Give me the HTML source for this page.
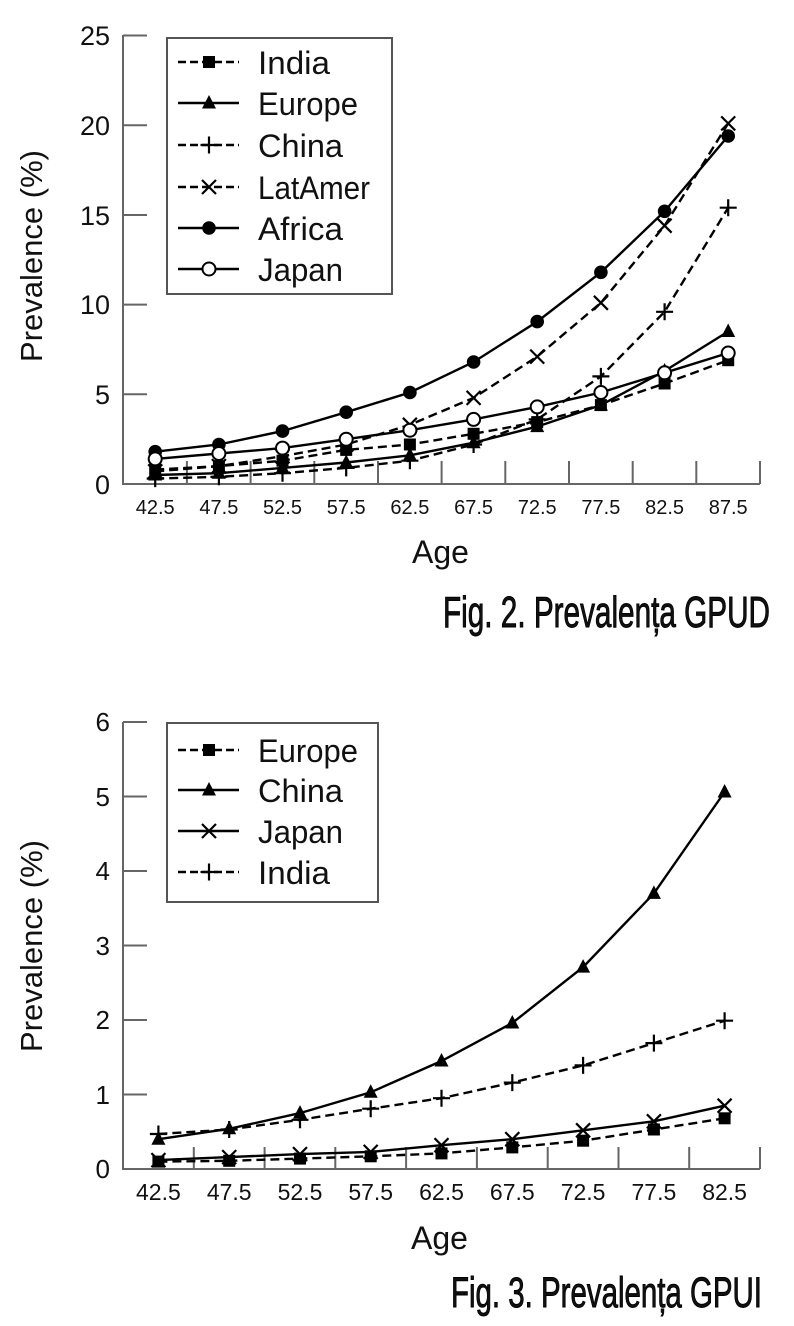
<!DOCTYPE html>
<html>
<head>
<meta charset="utf-8">
<style>
html,body{margin:0;padding:0;background:#fff;}
svg{display:block;}
text{font-family:"Liberation Sans",sans-serif;fill:#111;}
</style>
</head>
<body>
<svg width="794" height="1326" viewBox="0 0 794 1326" xmlns="http://www.w3.org/2000/svg">
<defs>
  <rect id="sq" x="-6" y="-6" width="12" height="12" fill="#000"/>
  <path id="tri" d="M0,-8 L7,5.5 L-7,5.5 Z" fill="#000"/>
  <path id="plus" d="M-8.5,0 H8.5 M0,-8.5 V8.5" stroke="#000" stroke-width="2.2" fill="none"/>
  <path id="ex" d="M-7,-7 L7,7 M7,-7 L-7,7" stroke="#000" stroke-width="2.2" fill="none"/>
  <circle id="dot" r="6.8" fill="#000"/>
  <circle id="ring" r="6.5" fill="#fff" stroke="#000" stroke-width="2"/>
</defs>

<!-- ================= CHART 1 ================= -->
<g stroke="#666" stroke-width="2" fill="none">
  <path d="M123,35 V484 H760"/>
  <path d="M123,35.5 H147 M123,125.2 H147 M123,215 H147 M123,304.6 H147 M123,394.3 H147"/>
  <path d="M186.9,484 V461 M250.6,484 V461 M314.3,484 V461 M378,484 V461 M441.6,484 V461 M505.3,484 V461 M569,484 V461 M632.7,484 V461 M696.3,484 V461 M760,484 V461"/>
</g>
<g font-size="27" text-anchor="end">
  <text x="110" y="45">25</text>
  <text x="110" y="135">20</text>
  <text x="110" y="225">15</text>
  <text x="110" y="314">10</text>
  <text x="110" y="404">5</text>
  <text x="110" y="494">0</text>
</g>
<g font-size="20" text-anchor="middle">
  <text x="155.2" y="514">42.5</text>
  <text x="218.9" y="514">47.5</text>
  <text x="282.5" y="514">52.5</text>
  <text x="346.2" y="514">57.5</text>
  <text x="409.9" y="514">62.5</text>
  <text x="473.6" y="514">67.5</text>
  <text x="537.2" y="514">72.5</text>
  <text x="600.9" y="514">77.5</text>
  <text x="664.6" y="514">82.5</text>
  <text x="728.2" y="514">87.5</text>
</g>
<text x="412" y="563" font-size="32">Age</text>
<text transform="translate(42,256) rotate(-90)" font-size="31" text-anchor="middle">Prevalence (%)</text>

<!-- series chart1 -->
<g fill="none" stroke="#000" stroke-width="2.4">
  <polyline stroke-dasharray="9,5" points="155.2,469.6 218.9,466.1 282.5,460.7 346.2,449.9 409.9,444.5 473.6,433.8 537.2,422.1 600.9,405.1 664.6,383.5 728.2,360.2"/>
  <polyline points="155.2,475.0 218.9,473.2 282.5,467.9 346.2,462.5 409.9,455.3 473.6,442.7 537.2,426.6 600.9,405.1 664.6,371.0 728.2,331.5"/>
  <polyline stroke-dasharray="9,5" points="155.2,478.6 218.9,476.8 282.5,473.2 346.2,467.9 409.9,460.7 473.6,444.5 537.2,419.4 600.9,376.4 664.6,311.8 728.2,207.7"/>
  <polyline stroke-dasharray="9,5" points="155.2,471.4 218.9,466.1 282.5,456.2 346.2,444.5 409.9,424.8 473.6,397.9 537.2,356.6 600.9,302.8 664.6,225.7 728.2,123.4"/>
  <polyline points="155.2,451.7 218.9,444.5 282.5,431.1 346.2,412.2 409.9,392.5 473.6,362.0 537.2,321.6 600.9,272.3 664.6,211.3 728.2,136.0"/>
  <polyline points="155.2,458.9 218.9,453.5 282.5,448.1 346.2,439.2 409.9,430.2 473.6,419.4 537.2,406.9 600.9,392.5 664.6,372.8 728.2,353.0"/>
</g>
<g>
  <use href="#sq" x="155.2" y="469.6"/><use href="#sq" x="218.9" y="466.1"/><use href="#sq" x="282.5" y="460.7"/><use href="#sq" x="346.2" y="449.9"/><use href="#sq" x="409.9" y="444.5"/><use href="#sq" x="473.6" y="433.8"/><use href="#sq" x="537.2" y="422.1"/><use href="#sq" x="600.9" y="405.1"/><use href="#sq" x="664.6" y="383.5"/><use href="#sq" x="728.2" y="360.2"/>
  <use href="#tri" x="155.2" y="475.0"/><use href="#tri" x="218.9" y="473.2"/><use href="#tri" x="282.5" y="467.9"/><use href="#tri" x="346.2" y="462.5"/><use href="#tri" x="409.9" y="455.3"/><use href="#tri" x="473.6" y="442.7"/><use href="#tri" x="537.2" y="426.6"/><use href="#tri" x="600.9" y="405.1"/><use href="#tri" x="664.6" y="371.0"/><use href="#tri" x="728.2" y="331.5"/>
  <use href="#plus" x="155.2" y="478.6"/><use href="#plus" x="218.9" y="476.8"/><use href="#plus" x="282.5" y="473.2"/><use href="#plus" x="346.2" y="467.9"/><use href="#plus" x="409.9" y="460.7"/><use href="#plus" x="473.6" y="444.5"/><use href="#plus" x="537.2" y="419.4"/><use href="#plus" x="600.9" y="376.4"/><use href="#plus" x="664.6" y="311.8"/><use href="#plus" x="728.2" y="207.7"/>
  <use href="#ex" x="155.2" y="471.4"/><use href="#ex" x="218.9" y="466.1"/><use href="#ex" x="282.5" y="456.2"/><use href="#ex" x="346.2" y="444.5"/><use href="#ex" x="409.9" y="424.8"/><use href="#ex" x="473.6" y="397.9"/><use href="#ex" x="537.2" y="356.6"/><use href="#ex" x="600.9" y="302.8"/><use href="#ex" x="664.6" y="225.7"/><use href="#ex" x="728.2" y="123.4"/>
  <use href="#dot" x="155.2" y="451.7"/><use href="#dot" x="218.9" y="444.5"/><use href="#dot" x="282.5" y="431.1"/><use href="#dot" x="346.2" y="412.2"/><use href="#dot" x="409.9" y="392.5"/><use href="#dot" x="473.6" y="362.0"/><use href="#dot" x="537.2" y="321.6"/><use href="#dot" x="600.9" y="272.3"/><use href="#dot" x="664.6" y="211.3"/><use href="#dot" x="728.2" y="136.0"/>
  <use href="#ring" x="155.2" y="458.9"/><use href="#ring" x="218.9" y="453.5"/><use href="#ring" x="282.5" y="448.1"/><use href="#ring" x="346.2" y="439.2"/><use href="#ring" x="409.9" y="430.2"/><use href="#ring" x="473.6" y="419.4"/><use href="#ring" x="537.2" y="406.9"/><use href="#ring" x="600.9" y="392.5"/><use href="#ring" x="664.6" y="372.8"/><use href="#ring" x="728.2" y="353.0"/>
</g>

<!-- legend chart1 -->
<rect x="167" y="38" width="225" height="256" fill="#fff" stroke="#555" stroke-width="2"/>
<g stroke="#000" stroke-width="2.4" fill="none">
  <path d="M178,62 H239" stroke-dasharray="8,4"/>
  <path d="M178,103 H239"/>
  <path d="M178,145 H239" stroke-dasharray="8,4"/>
  <path d="M178,187 H239" stroke-dasharray="8,4"/>
  <path d="M178,228 H239"/>
  <path d="M178,269 H239"/>
</g>
<use href="#sq" x="209" y="62"/>
<use href="#tri" x="209" y="103"/>
<use href="#plus" x="209" y="145"/>
<use href="#ex" x="209" y="187"/>
<use href="#dot" x="209" y="228"/>
<use href="#ring" x="209" y="269"/>
<g font-size="32">
  <text x="258" y="74" textLength="72" lengthAdjust="spacingAndGlyphs">India</text>
  <text x="258" y="115" textLength="100" lengthAdjust="spacingAndGlyphs">Europe</text>
  <text x="258" y="157" textLength="85" lengthAdjust="spacingAndGlyphs">China</text>
  <text x="258" y="199" textLength="112" lengthAdjust="spacingAndGlyphs">LatAmer</text>
  <text x="258" y="240" textLength="85" lengthAdjust="spacingAndGlyphs">Africa</text>
  <text x="258" y="281" textLength="85" lengthAdjust="spacingAndGlyphs">Japan</text>
</g>

<text x="443" y="627" font-size="44" textLength="327" lengthAdjust="spacingAndGlyphs" stroke="#000" stroke-width="0.9">Fig. 2. Prevalența GPUD</text>

<!-- ================= CHART 2 ================= -->
<g stroke="#666" stroke-width="2" fill="none">
  <path d="M123,722 V1169 H760"/>
  <path d="M123,722 H147 M123,796.5 H147 M123,871 H147 M123,945.5 H147 M123,1020 H147 M123,1094.5 H147"/>
  <path d="M193.8,1169 V1147 M264.6,1169 V1147 M335.3,1169 V1147 M406.1,1169 V1147 M476.9,1169 V1147 M547.7,1169 V1147 M618.5,1169 V1147 M689.2,1169 V1147 M760,1169 V1147"/>
</g>
<g font-size="26" text-anchor="end">
  <text x="110" y="731">6</text>
  <text x="110" y="806">5</text>
  <text x="110" y="880">4</text>
  <text x="110" y="955">3</text>
  <text x="110" y="1029">2</text>
  <text x="110" y="1104">1</text>
  <text x="110" y="1178">0</text>
</g>
<g font-size="23" text-anchor="middle">
  <text x="158.4" y="1200">42.5</text>
  <text x="229.2" y="1200">47.5</text>
  <text x="300.0" y="1200">52.5</text>
  <text x="370.7" y="1200">57.5</text>
  <text x="441.5" y="1200">62.5</text>
  <text x="512.3" y="1200">67.5</text>
  <text x="583.1" y="1200">72.5</text>
  <text x="653.9" y="1200">77.5</text>
  <text x="724.6" y="1200">82.5</text>
</g>
<text x="411" y="1249" font-size="32">Age</text>
<text transform="translate(42,946) rotate(-90)" font-size="31" text-anchor="middle">Prevalence (%)</text>

<g fill="none" stroke="#000" stroke-width="2.4">
  <polyline stroke-dasharray="9,5" points="158.4,1161.6 229.2,1160.8 300.0,1158.6 370.7,1156.3 441.5,1153.4 512.3,1147.4 583.1,1140.7 653.9,1129.5 724.6,1118.3"/>
  <polyline points="158.4,1139.2 229.2,1128.8 300.0,1113.1 370.7,1092.3 441.5,1061.0 512.3,1023.0 583.1,967.1 653.9,893.4 724.6,792.0"/>
  <polyline points="158.4,1160.1 229.2,1157.1 300.0,1154.1 370.7,1151.9 441.5,1145.2 512.3,1139.2 583.1,1130.3 653.9,1121.3 724.6,1105.7"/>
  <polyline stroke-dasharray="9,5" points="158.4,1134.0 229.2,1129.5 300.0,1119.8 370.7,1108.7 441.5,1098.2 512.3,1082.6 583.1,1065.4 653.9,1043.1 724.6,1020.7"/>
</g>
<g>
  <use href="#sq" x="158.4" y="1161.6"/><use href="#sq" x="229.2" y="1160.8"/><use href="#sq" x="300.0" y="1158.6"/><use href="#sq" x="370.7" y="1156.3"/><use href="#sq" x="441.5" y="1153.4"/><use href="#sq" x="512.3" y="1147.4"/><use href="#sq" x="583.1" y="1140.7"/><use href="#sq" x="653.9" y="1129.5"/><use href="#sq" x="724.6" y="1118.3"/>
  <use href="#tri" x="158.4" y="1139.2"/><use href="#tri" x="229.2" y="1128.8"/><use href="#tri" x="300.0" y="1113.1"/><use href="#tri" x="370.7" y="1092.3"/><use href="#tri" x="441.5" y="1061.0"/><use href="#tri" x="512.3" y="1023.0"/><use href="#tri" x="583.1" y="967.1"/><use href="#tri" x="653.9" y="893.4"/><use href="#tri" x="724.6" y="792.0"/>
  <use href="#ex" x="158.4" y="1160.1"/><use href="#ex" x="229.2" y="1157.1"/><use href="#ex" x="300.0" y="1154.1"/><use href="#ex" x="370.7" y="1151.9"/><use href="#ex" x="441.5" y="1145.2"/><use href="#ex" x="512.3" y="1139.2"/><use href="#ex" x="583.1" y="1130.3"/><use href="#ex" x="653.9" y="1121.3"/><use href="#ex" x="724.6" y="1105.7"/>
  <use href="#plus" x="158.4" y="1134.0"/><use href="#plus" x="229.2" y="1129.5"/><use href="#plus" x="300.0" y="1119.8"/><use href="#plus" x="370.7" y="1108.7"/><use href="#plus" x="441.5" y="1098.2"/><use href="#plus" x="512.3" y="1082.6"/><use href="#plus" x="583.1" y="1065.4"/><use href="#plus" x="653.9" y="1043.1"/><use href="#plus" x="724.6" y="1020.7"/>
</g>

<!-- legend chart2 -->
<rect x="167" y="723" width="211" height="179" fill="#fff" stroke="#555" stroke-width="2"/>
<g stroke="#000" stroke-width="2.4" fill="none">
  <path d="M178,750 H239" stroke-dasharray="8,4"/>
  <path d="M178,790 H239"/>
  <path d="M178,831 H239"/>
  <path d="M178,872 H239" stroke-dasharray="8,4"/>
</g>
<use href="#sq" x="209" y="750"/>
<use href="#tri" x="209" y="790"/>
<use href="#ex" x="209" y="831"/>
<use href="#plus" x="209" y="872"/>
<g font-size="32">
  <text x="258" y="762" textLength="100" lengthAdjust="spacingAndGlyphs">Europe</text>
  <text x="258" y="802" textLength="85" lengthAdjust="spacingAndGlyphs">China</text>
  <text x="258" y="843" textLength="85" lengthAdjust="spacingAndGlyphs">Japan</text>
  <text x="258" y="884" textLength="72" lengthAdjust="spacingAndGlyphs">India</text>
</g>

<text x="451" y="1307" font-size="43" textLength="311" lengthAdjust="spacingAndGlyphs" stroke="#000" stroke-width="0.9">Fig. 3. Prevalența GPUI</text>
</svg>
</body>
</html>
